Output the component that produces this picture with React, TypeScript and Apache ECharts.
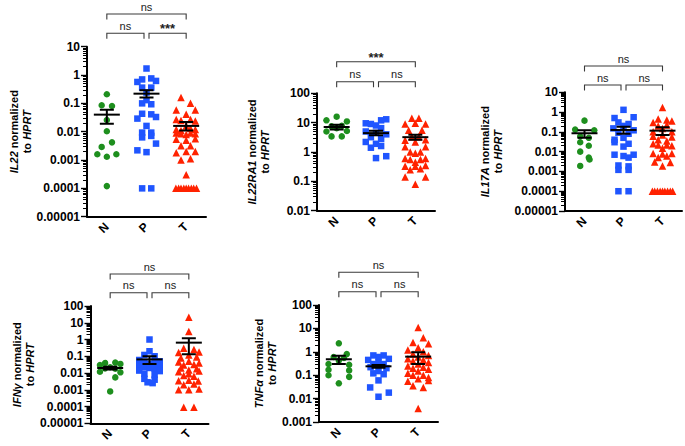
import React, { useEffect, useRef } from 'react';
import * as echarts from 'echarts';

const categories = ['N', 'P', 'T'];

// ---------- IL22 ----------
const il22N = [[0, 0.21], [-0.13, 0.086], [0.13, 0.081], [0, 0.026], [0, 0.0104], [0.13, 0.0042], [-0.13, 0.0029], [-0.24, 0.0016], [0, 0.0013], [0.24, 0.0016], [0, 0.00012]];
const il22P = [[0, 1.7], [-0.23, 0.57], [-0.11, 0.7], [0.12, 0.76], [0.24, 0.62], [-0.11, 0.36], [0.12, 0.36], [0, 0.24], [-0.11, 0.1], [0.12, 0.093], [0, 0.13], [-0.11, 0.043], [-0.23, 0.029], [0.12, 0.041], [0.24, 0.033], [0, 0.016], [-0.11, 0.0093], [0.12, 0.0093], [-0.11, 0.0063], [0.12, 0.0071], [0.24, 0.0038], [-0.23, 0.0022], [0, 0.0019], [-0.11, 0.0001], [0.12, 0.0001]];
const il22T = [[-0.13, 0.16], [0.11, 0.1], [-0.25, 0.058], [0.23, 0.058], [0, 0.041], [-0.25, 0.027], [-0.13, 0.025], [0.11, 0.027], [0.23, 0.024], [0, 0.016], [-0.25, 0.012], [-0.13, 0.011], [0.11, 0.013], [0.23, 0.012], [-0.25, 0.009], [-0.13, 0.0085], [0, 0.008], [0.11, 0.009], [0.23, 0.0085], [-0.25, 0.0054], [0, 0.005], [0.23, 0.0056], [-0.13, 0.0032], [0.11, 0.0032], [-0.25, 0.0018], [0, 0.002], [0.23, 0.002], [-0.13, 0.001], [0.11, 0.0011], [0, 0.0003], [-0.26, 0.0001], [-0.19, 0.0001], [-0.13, 0.0001], [-0.06, 0.0001], [0, 0.0001], [0.06, 0.0001], [0.13, 0.0001], [0.19, 0.0001], [0.26, 0.0001]];
const il22Mean = [0.04, 0.22, 0.016];
const il22Lo = [0.019, 0.16, 0.011];
const il22Hi = [0.059, 0.29, 0.022];
const il22Sig = ['ns', '***', 'ns'];
const il22Ticks = ['0.00001', '0.0001', '0.001', '0.01', '0.1', '1', '10'];

// ---------- IL22RA1 ----------
const il22ra1N = [[0, 16], [-0.26, 12], [0.26, 11], [-0.13, 7.5], [0.13, 7.8], [0, 6.5], [-0.26, 5], [0.26, 5.2], [-0.13, 3.4], [0.13, 3.4]];
const il22ra1P = [[-0.26, 9.5], [-0.13, 9], [0.13, 12], [0.26, 13], [0, 8], [0.13, 6.5], [-0.26, 5], [0, 4.5], [0.26, 4], [-0.13, 3.2], [0.13, 2.8], [-0.26, 2.2], [0, 1.9], [0.13, 1.6], [-0.13, 1.4], [0, 0.62], [0.26, 0.72]];
const il22ra1T = [[-0.09, 14], [0.09, 14], [-0.26, 9], [0, 9.5], [0.26, 9], [-0.17, 5.5], [0.17, 5.5], [-0.09, 3.3], [0.09, 3.3], [0, 2.2], [-0.26, 2.5], [0.26, 2.6], [-0.26, 1.5], [0.26, 1.5], [-0.13, 1.0], [0.13, 1.0], [0, 0.9], [-0.26, 0.6], [0.26, 0.6], [-0.13, 0.55], [0.13, 0.55], [0, 0.45], [-0.26, 0.33], [0, 0.33], [0.26, 0.35], [-0.13, 0.25], [0.13, 0.27], [-0.26, 0.14], [0.26, 0.14], [0, 0.08]];
const il22ra1Mean = [7.1, 4.4, 3.2];
const il22ra1Lo = [5.9, 3.7, 2.6];
const il22ra1Hi = [8.5, 5.3, 3.9];
const il22ra1Sig = ['ns', 'ns', '***'];
const il22ra1Ticks = ['0.01', '0.1', '1', '10', '100'];

// ---------- IL17A ----------
const il17N = [[0, 0.37], [-0.24, 0.13], [0.25, 0.12], [-0.11, 0.06], [0.11, 0.05], [-0.11, 0.03], [0.11, 0.02], [-0.11, 0.01], [0.11, 0.005], [0.13, 0.004], [-0.11, 0.0019]];
const il17P = [[0, 1.3], [-0.23, 0.5], [0.26, 0.55], [-0.13, 0.3], [0.13, 0.25], [0, 0.2], [-0.26, 0.15], [0.26, 0.12], [-0.13, 0.09], [0.13, 0.08], [-0.23, 0.04], [0, 0.05], [-0.23, 0.03], [0.13, 0.025], [0, 0.018], [-0.23, 0.007], [0, 0.006], [0.26, 0.007], [0.13, 0.005], [-0.13, 0.002], [0.13, 0.0018], [-0.13, 0.0012], [0.13, 0.0012], [-0.13, 0.0001], [0.13, 0.0001]];
const il17T = [[0, 1.7], [-0.11, 0.45], [0.11, 0.4], [-0.24, 0.3], [0.24, 0.35], [-0.11, 0.2], [0.11, 0.22], [0, 0.15], [-0.24, 0.1], [0.24, 0.1], [-0.24, 0.06], [0.24, 0.055], [0, 0.07], [-0.11, 0.04], [0.11, 0.035], [-0.24, 0.025], [-0.11, 0.022], [0.11, 0.022], [0.24, 0.02], [0, 0.015], [-0.24, 0.008], [0, 0.0075], [0.24, 0.008], [-0.11, 0.005], [0.11, 0.006], [-0.2, 0.003], [0.2, 0.0028], [0, 0.0019], [-0.26, 0.0001], [-0.2, 0.0001], [-0.13, 0.0001], [-0.06, 0.0001], [0, 0.0001], [0.06, 0.0001], [0.13, 0.0001], [0.2, 0.0001], [0.26, 0.0001]];
const il17Mean = [0.085, 0.125, 0.115];
const il17Lo = [0.05, 0.08, 0.07];
const il17Hi = [0.12, 0.18, 0.17];
const il17Sig = ['ns', 'ns', 'ns'];
const il17Ticks = ['0.00001', '0.0001', '0.001', '0.01', '0.1', '1', '10'];

// ---------- IFNγ ----------
const ifnN = [[-0.13, 0.04], [0.13, 0.042], [-0.26, 0.03], [0, 0.022], [0.26, 0.035], [-0.13, 0.019], [0.13, 0.018], [-0.26, 0.012], [0.26, 0.011], [0.13, 0.0055], [0, 0.0008]];
const ifnP = [[0, 1.0], [0, 0.2], [-0.13, 0.12], [0.13, 0.1], [-0.26, 0.06], [0.26, 0.05], [-0.13, 0.045], [0.13, 0.04], [0, 0.035], [-0.26, 0.03], [0.26, 0.028], [-0.13, 0.022], [0, 0.02], [0.13, 0.018], [-0.26, 0.014], [0.26, 0.013], [-0.13, 0.009], [0.13, 0.008], [-0.13, 0.0045], [0.13, 0.004], [-0.05, 0.0028], [0.08, 0.0025]];
const ifnT = [[0, 21], [0, 3], [-0.26, 0.17], [0.26, 0.18], [-0.13, 0.3], [0.13, 0.25], [0, 0.12], [-0.2, 0.08], [0.2, 0.09], [-0.26, 0.045], [0, 0.05], [0.26, 0.04], [-0.13, 0.03], [0.13, 0.032], [-0.2, 0.02], [0.2, 0.018], [0, 0.015], [-0.26, 0.012], [0.26, 0.013], [-0.13, 0.007], [0.13, 0.0065], [0, 0.009], [-0.26, 0.0035], [0, 0.0037], [0.24, 0.0033], [-0.13, 0.002], [0.13, 0.0022], [-0.26, 0.001], [0, 0.001], [0.26, 0.0011], [-0.13, 0.00009], [0.13, 0.00009]];
const ifnMean = [0.02, 0.065, 0.65];
const ifnLo = [0.016, 0.035, 0.13];
const ifnHi = [0.024, 0.1, 1.2];
const ifnSig = ['ns', 'ns', 'ns'];
const ifnTicks = ['0.00001', '0.0001', '0.001', '0.01', '0.1', '1', '10', '100'];

// ---------- TNFα ----------
const tnfN = [[0, 2.3], [0.2, 0.8], [-0.13, 0.6], [0.13, 0.55], [0, 0.42], [-0.26, 0.3], [0.26, 0.28], [-0.26, 0.17], [0.26, 0.16], [-0.26, 0.1], [0.26, 0.085], [0, 0.045]];
const tnfP = [[-0.13, 0.7], [0.13, 0.7], [0, 0.6], [0.26, 0.5], [-0.26, 0.45], [0, 0.35], [-0.13, 0.3], [0.13, 0.3], [-0.2, 0.22], [0.2, 0.2], [-0.13, 0.12], [0.13, 0.11], [0, 0.15], [0, 0.06], [-0.21, 0.03], [0.26, 0.018], [0, 0.012]];
const tnfT = [[0, 11], [0.13, 4], [-0.13, 2.5], [0.26, 2.2], [-0.26, 1.2], [0, 1.5], [0.13, 1.0], [-0.13, 0.8], [0.26, 0.7], [0, 0.6], [-0.26, 0.5], [-0.13, 0.4], [0.13, 0.45], [0.26, 0.35], [0, 0.3], [-0.26, 0.25], [-0.13, 0.2], [0.13, 0.22], [0.26, 0.18], [0, 0.15], [-0.26, 0.12], [-0.13, 0.1], [0.13, 0.1], [0.26, 0.08], [0, 0.07], [-0.26, 0.055], [0.26, 0.06], [-0.13, 0.035], [0.13, 0.03], [0, 0.0038]];
const tnfMean = [0.48, 0.24, 0.62];
const tnfLo = [0.3, 0.21, 0.3];
const tnfHi = [0.68, 0.27, 0.95];
const tnfSig = ['ns', 'ns', 'ns'];
const tnfTicks = ['0.001', '0.01', '0.1', '1', '10', '100'];

const GREEN = '#1e8f1e';
const BLUE = '#1f55ff';
const RED = '#ff2200';
const FONT = 'Liberation Sans, Arial, sans-serif';

const panels = [
  { gene: 'IL22', N: il22N, P: il22P, T: il22T, mean: il22Mean, lo: il22Lo, hi: il22Hi, sig: il22Sig, ticks: il22Ticks, min: 1e-5, max: 10,
    grid: { left: 87, top: 46.7, width: 119, height: 170 }, nameGap: 54, hiOff: 32.7, loOff: 13.4 },
  { gene: 'IL22RA1', N: il22ra1N, P: il22ra1P, T: il22ra1T, mean: il22ra1Mean, lo: il22ra1Lo, hi: il22ra1Hi, sig: il22ra1Sig, ticks: il22ra1Ticks, min: 0.01, max: 100,
    grid: { left: 317, top: 93.3, width: 118, height: 117.4 }, nameGap: 46, hiOff: 31.6, loOff: 11.6 },
  { gene: 'IL17A', N: il17N, P: il17P, T: il17T, mean: il17Mean, lo: il17Lo, hi: il17Hi, sig: il17Sig, ticks: il17Ticks, min: 1e-5, max: 10,
    grid: { left: 565, top: 92.3, width: 117, height: 118.7 }, nameGap: 61, hiOff: 26.3, loOff: 7.3 },
  { gene: 'IFNγ', N: ifnN, P: ifnP, T: ifnT, mean: ifnMean, lo: ifnLo, hi: ifnHi, sig: ifnSig, ticks: ifnTicks, min: 1e-5, max: 100,
    grid: { left: 90.5, top: 306, width: 118, height: 117.3 }, nameGap: 54, hiOff: 32, loOff: 13.3 },
  { gene: 'TNFα', N: tnfN, P: tnfP, T: tnfT, mean: tnfMean, lo: tnfLo, hi: tnfHi, sig: tnfSig, ticks: tnfTicks, min: 0.001, max: 100,
    grid: { left: 319, top: 305, width: 119, height: 117 }, nameGap: 41, hiOff: 32.7, loOff: 13.3 },
];

const ITALIC_FONT = 'italic bold 11px "Liberation Sans", Arial, sans-serif';
const PLAIN_FONT = 'bold 11px "Liberation Sans", Arial, sans-serif';
let measureCtx: any = null;
const measure = (t: string, font: string) => {
  if (!measureCtx) measureCtx = document.createElement('canvas').getContext('2d');
  if (!measureCtx) return t.length * 6;
  measureCtx.font = font;
  return measureCtx.measureText(t).width;
};

// whisker + caps as one polyline
const whiskerRender = (params: any, api: any) => {
  const x = api.value(0);
  const pl = api.coord([x, api.value(2)]);
  const ph = api.coord([x, api.value(3)]);
  const cx = pl[0];
  return {
    type: 'polyline',
    shape: { points: [[cx - 7, ph[1]], [cx + 7, ph[1]], [cx, ph[1]], [cx, pl[1]], [cx - 7, pl[1]], [cx + 7, pl[1]]] },
    style: { stroke: '#000', lineWidth: 2, fill: 'none' },
  };
};

const meanRender = (params: any, api: any) => {
  const pm = api.coord([api.value(0), api.value(1)]);
  return { type: 'line', shape: { x1: pm[0] - 13, y1: pm[1], x2: pm[0] + 13, y2: pm[1] }, style: { stroke: '#000', lineWidth: 2 } };
};

const bracketGeom = (i: number, api: any, hiOff: number, loOff: number) => {
  const a = api.coord([api.value(0), api.value(2)]);
  const b = api.coord([api.value(1), api.value(2)]);
  const isTop = i === 2;
  const yLine = a[1] - (isTop ? hiOff : loOff);
  let x1 = a[0];
  let x2 = b[0];
  if (!isTop) {
    if (i === 0) x2 -= 2.5;
    else x1 += 2.5;
  }
  return { x1, x2, yLine };
};

const makeBracketLineRender = (hiOff: number, loOff: number) => (params: any, api: any) => {
  const g = bracketGeom(params.dataIndex, api, hiOff, loOff);
  const leg = 5.5;
  return {
    type: 'polyline',
    shape: { points: [[g.x1, g.yLine + leg], [g.x1, g.yLine], [g.x2, g.yLine], [g.x2, g.yLine + leg]] },
    style: { stroke: '#3a3a3a', lineWidth: 1.1, fill: 'none' },
  };
};

const makeBracketTextRender = (labels: string[], hiOff: number, loOff: number) => (params: any, api: any) => {
  const i = params.dataIndex;
  const g = bracketGeom(i, api, hiOff, loOff);
  const star = labels[i].indexOf('*') >= 0;
  return {
    type: 'text',
    style: { text: labels[i], x: (g.x1 + g.x2) / 2, y: star ? g.yLine + 2 : g.yLine - 2, align: 'center', verticalAlign: 'bottom', fontSize: star ? 13 : 11, fontWeight: star ? 'bold' : 'normal', fontFamily: FONT, fill: '#222' },
  };
};

// y-axis title: four rotated pieces (italic gene / HPRT), placed relative to the axis
const makeNameRender = (gene: string, gap: number) => {
  const w1a = measure(gene, ITALIC_FONT);
  const w1b = measure(' normalized', PLAIN_FONT);
  const w2a = measure('to ', PLAIN_FONT);
  const w2b = measure('HPRT', ITALIC_FONT);
  const W1 = w1a + w1b;
  const W2 = w2a + w2b;
  const parts = [
    { text: gene, italic: true, ly: -6.5, lx: -W1 / 2 },
    { text: ' normalized', italic: false, ly: -6.5, lx: -W1 / 2 + w1a },
    { text: 'to ', italic: false, ly: 6.5, lx: -W2 / 2 },
    { text: 'HPRT', italic: true, ly: 6.5, lx: -W2 / 2 + w2a },
  ];
  return (params: any, api: any) => {
    const p = api.coord([api.value(0), api.value(1)]);
    const part = parts[params.dataIndex];
    const ox = p[0] - gap - 13;
    const oy = p[1];
    return {
      type: 'text', x: ox + part.ly, y: oy - part.lx, rotation: Math.PI / 2,
      style: {
        text: part.text, x: 0, y: 0, align: 'left', verticalAlign: 'middle',
        fontSize: 11, fontWeight: 'bold', fontStyle: part.italic ? 'italic' : 'normal', fontFamily: FONT, fill: '#000',
      },
    };
  };
};

function buildOption() {
  const grid: any[] = [];
  const xAxis: any[] = [];
  const yAxis: any[] = [];
  const series: any[] = [];
  panels.forEach((p, k) => {
    grid.push({ ...p.grid });
    xAxis.push({
      type: 'category', gridIndex: k, data: categories,
      axisLine: { lineStyle: { color: '#000', width: 2 } },
      axisTick: { alignWithLabel: true, length: 5, lineStyle: { color: '#000', width: 1.5 } },
      axisLabel: { rotate: 45, interval: 0, fontSize: 12, fontWeight: 'bold', fontFamily: FONT, color: '#000', margin: 8 },
    });
    xAxis.push({ type: 'value', gridIndex: k, min: 0, max: 3, show: false });
    const ticks = p.ticks;
    const minExp = Math.round(Math.log10(p.min));
    yAxis.push({
      type: 'log', logBase: 10, gridIndex: k, min: p.min, max: p.max, splitNumber: 10,
      axisLine: { show: true, lineStyle: { color: '#000', width: 2 } },
      axisTick: { show: true, length: 6, lineStyle: { color: '#000', width: 1.4 } },
      minorTick: { show: true, splitNumber: 9, length: 4, lineStyle: { color: '#000', width: 1 } },
      axisLabel: {
        fontSize: 12, fontWeight: 'bold', fontFamily: FONT, color: '#000', margin: 7,
        formatter: (v: number) => ticks[Math.round(Math.log10(v)) - minExp] ?? '',
      },
      splitLine: { show: false },
    });
    const xi = 2 * k + 1;
    const groups = [
      { d: p.N, c: GREEN, s: 'circle', size: 6.5, idx: 0 },
      { d: p.P, c: BLUE, s: 'rect', size: 6.5, idx: 1 },
      { d: p.T, c: RED, s: 'triangle', size: 7.5, idx: 2 },
    ];
    groups.forEach((g) => {
      series.push({
        type: 'scatter', xAxisIndex: xi, yAxisIndex: k, symbol: g.s, symbolSize: g.size,
        itemStyle: { color: g.c, opacity: 1 }, z: 2,
        data: g.d.map(([o, v]) => [g.idx + 0.5 + o, v]),
      });
    });
    const errData = categories.map((_, i) => [i + 0.5, p.mean[i], p.lo[i], p.hi[i]]);
    series.push({ type: 'custom', xAxisIndex: xi, yAxisIndex: k, z: 5, renderItem: whiskerRender, encode: { x: 0, y: 1 }, data: errData });
    series.push({ type: 'custom', xAxisIndex: xi, yAxisIndex: k, z: 5, renderItem: meanRender, encode: { x: 0, y: 1 }, data: errData });
    const brData = [[0.5, 1.5, p.max], [1.5, 2.5, p.max], [0.5, 2.5, p.max]];
    series.push({ type: 'custom', xAxisIndex: xi, yAxisIndex: k, z: 5, clip: false, renderItem: makeBracketLineRender(p.hiOff, p.loOff), encode: { x: [0, 1], y: 2 }, data: brData });
    series.push({ type: 'custom', xAxisIndex: xi, yAxisIndex: k, z: 5, clip: false, renderItem: makeBracketTextRender(p.sig, p.hiOff, p.loOff), encode: { x: [0, 1], y: 2 }, data: brData });
    const mid = Math.sqrt(p.min * p.max);
    series.push({
      type: 'custom', xAxisIndex: xi, yAxisIndex: k, z: 5, clip: false, silent: true,
      renderItem: makeNameRender(p.gene, p.nameGap), encode: { x: 0, y: 1 },
      data: [[0, mid], [0, mid], [0, mid], [0, mid]],
    });
  });
  return { animation: false, backgroundColor: '#fff', grid, xAxis, yAxis, series };
}

export default function App() {
  const ref = useRef<HTMLDivElement>(null);
  useEffect(() => {
    if (!ref.current) return;
    const chart = echarts.init(ref.current, undefined, { renderer: 'svg' });
    chart.setOption(buildOption() as any);
    return () => chart.dispose();
  }, []);
  return <div ref={ref} style={{ position: 'absolute', left: 0, top: 0, width: 685, height: 446, background: '#fff' }} />;
}
